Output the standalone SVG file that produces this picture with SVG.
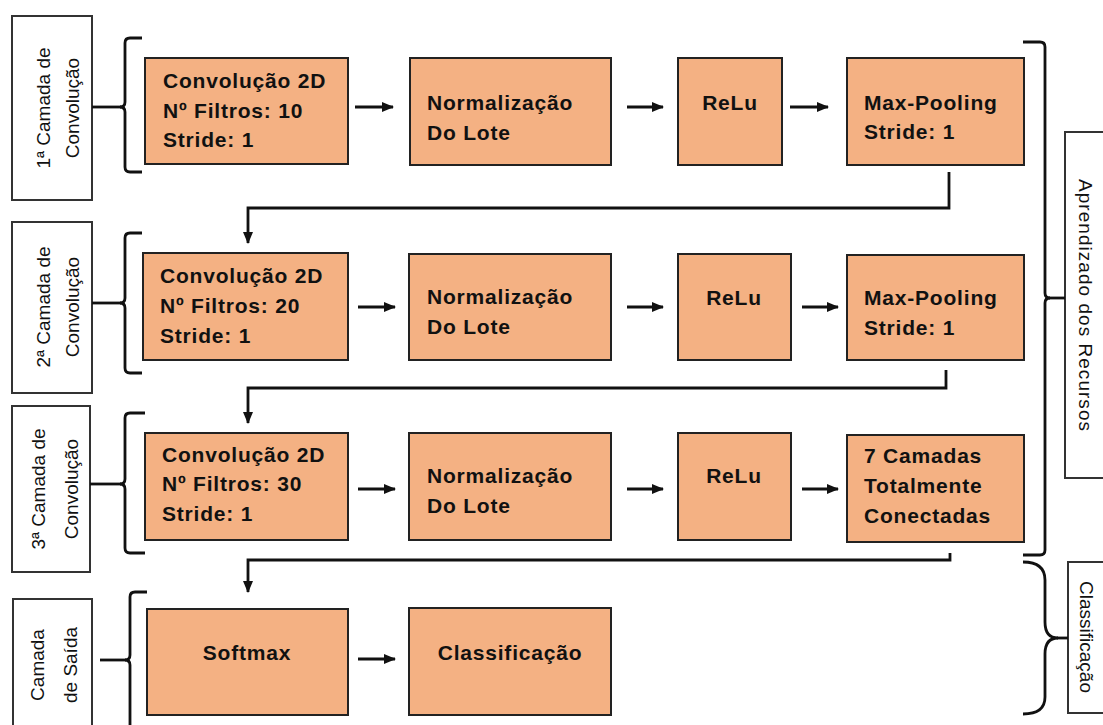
<svg xmlns="http://www.w3.org/2000/svg" width="1103" height="725" viewBox="0 0 1103 725">
<style>
.box{fill:#F4B183;stroke:#222;stroke-width:2}
.lbl{fill:#fff;stroke:#333;stroke-width:2}
.t{font-family:"Liberation Sans",Arial,sans-serif;font-weight:bold;font-size:21px;letter-spacing:0.8px;fill:#111}
.c{text-anchor:middle}
.v{font-family:"Liberation Sans",Arial,sans-serif;font-size:19px;fill:#111;text-anchor:middle}
.ln{fill:none;stroke:#111;stroke-width:2.8}
.br{fill:none;stroke:#111;stroke-width:2.8}
</style>
<defs>
<marker id="ah" markerUnits="userSpaceOnUse" markerWidth="12" markerHeight="12" viewBox="0 0 12 12" refX="11" refY="6" orient="auto">
<path d="M0,1 L12,6 L0,11 Z" fill="#111"/>
</marker>
</defs>

<g id="label1"><rect class="lbl" x="12" y="16" width="80" height="184"/>
<text class="v" transform="translate(50,108) rotate(-90)">1ª Camada de</text>
<text class="v" transform="translate(79,108) rotate(-90)">Convolução</text></g>
<g id="label2"><rect class="lbl" x="12" y="222" width="80" height="171"/>
<text class="v" transform="translate(50,307) rotate(-90)">2ª Camada de</text>
<text class="v" transform="translate(79,307) rotate(-90)">Convolução</text></g>
<g id="label3"><rect class="lbl" x="12" y="406" width="78" height="166"/>
<text class="v" transform="translate(45,489) rotate(-90)">3ª Camada de</text>
<text class="v" transform="translate(78,489) rotate(-90)">Convolução</text></g>
<g id="label4"><rect class="lbl" x="13" y="599" width="79" height="140"/>
<text class="v" transform="translate(44,665) rotate(-90)">Camada</text>
<text class="v" transform="translate(77,665) rotate(-90)">de Saída</text></g>

<g id="label-aprendizado"><rect class="lbl" x="1065" y="132" width="50" height="346"/>
<text class="v" font-size="20" textLength="252" transform="translate(1079,305) rotate(90)">Aprendizado dos Recursos</text></g>
<g id="label-classificacao"><rect class="lbl" x="1068" y="562" width="50" height="151"/>
<text class="v" font-size="20" transform="translate(1080,637) rotate(90)">Classificação</text></g>

<g id="brackets">
<path class="br" d="M142 38 H130 Q125 38 125 43 V102 Q125 107 120 107 Q125 107 125 112 V167 Q125 172 130 172 H142"/>
<path class="br" d="M142 233 H130 Q125 233 125 238 V298 Q125 303 120 303 Q125 303 125 308 V368 Q125 373 130 373 H142"/>
<path class="br" d="M145 413 H130 Q125 413 125 418 V479 Q125 484 120 484 Q125 484 125 489 V548 Q125 553 130 553 H145"/>
<path class="br" d="M147 592 H135 Q130 592 130 597 V655 Q130 660 125 660 Q130 660 130 665 V725"/>
<path class="br" d="M1023 42 H1040 Q1045 42 1045 47 V293 Q1045 298 1050 298 Q1045 298 1045 303 V550 Q1045 555 1040 555 H1023"/>
<path class="br" d="M1023 562 Q1045 562 1045 580 V622 Q1045 638 1058 638 Q1045 638 1045 654 V697 Q1045 714 1023 714"/>
</g>

<g id="connectors">
<line class="ln" x1="92" y1="107" x2="121" y2="107"/>
<line class="ln" x1="92" y1="303" x2="121" y2="303"/>
<line class="ln" x1="90" y1="484" x2="121" y2="484"/>
<line class="ln" x1="100" y1="660" x2="126" y2="660"/>
<line class="ln" x1="1049" y1="298" x2="1065" y2="298"/>
<line class="ln" x1="1057" y1="638" x2="1068" y2="638"/>

<line class="ln" x1="355" y1="107" x2="393" y2="107" marker-end="url(#ah)"/>
<line class="ln" x1="627" y1="107" x2="663" y2="107" marker-end="url(#ah)"/>
<line class="ln" x1="790" y1="107" x2="828" y2="107" marker-end="url(#ah)"/>
<line class="ln" x1="358" y1="307" x2="395" y2="307" marker-end="url(#ah)"/>
<line class="ln" x1="627" y1="307" x2="663" y2="307" marker-end="url(#ah)"/>
<line class="ln" x1="802" y1="307" x2="838" y2="307" marker-end="url(#ah)"/>
<line class="ln" x1="358" y1="489" x2="395" y2="489" marker-end="url(#ah)"/>
<line class="ln" x1="627" y1="489" x2="663" y2="489" marker-end="url(#ah)"/>
<line class="ln" x1="802" y1="489" x2="838" y2="489" marker-end="url(#ah)"/>
<line class="ln" x1="358" y1="659" x2="395" y2="659" marker-end="url(#ah)"/>

<path class="ln" d="M949 172 V208 H248 V243" marker-end="url(#ah)"/>
<path class="ln" d="M946 370 V388 H248 V423" marker-end="url(#ah)"/>
<path class="ln" d="M950 553 V560 H248 V592" marker-end="url(#ah)"/>
</g>

<g id="conv1"><rect class="box" x="145" y="58" width="203" height="106"/>
<text class="t" x="163" y="88">Convolução 2D</text><text class="t" x="163" y="118">Nº Filtros: 10</text><text class="t" x="163" y="147">Stride: 1</text></g>
<g id="norm1"><rect class="box" x="410" y="58" width="201" height="107"/>
<text class="t" x="427" y="110">Normalização</text><text class="t" x="427" y="140">Do Lote</text></g>
<g id="relu1"><rect class="box" x="678" y="58" width="104" height="107"/>
<text class="t c" x="730" y="110">ReLu</text></g>
<g id="pool1"><rect class="box" x="847" y="58" width="177" height="107"/>
<text class="t" x="864" y="110">Max-Pooling</text><text class="t" x="864" y="139">Stride: 1</text></g>

<g id="conv2"><rect class="box" x="143" y="253" width="205" height="107"/>
<text class="t" x="160" y="283">Convolução 2D</text><text class="t" x="160" y="313">Nº Filtros: 20</text><text class="t" x="160" y="343">Stride: 1</text></g>
<g id="norm2"><rect class="box" x="409" y="254" width="202" height="106"/>
<text class="t" x="427" y="304">Normalização</text><text class="t" x="427" y="334">Do Lote</text></g>
<g id="relu2"><rect class="box" x="678" y="254" width="113" height="106"/>
<text class="t c" x="734" y="305">ReLu</text></g>
<g id="pool2"><rect class="box" x="847" y="255" width="177" height="105"/>
<text class="t" x="864" y="305">Max-Pooling</text><text class="t" x="864" y="335">Stride: 1</text></g>

<g id="conv3"><rect class="box" x="145" y="433" width="203" height="107"/>
<text class="t" x="162" y="462">Convolução 2D</text><text class="t" x="162" y="491">Nº Filtros: 30</text><text class="t" x="162" y="521">Stride: 1</text></g>
<g id="norm3"><rect class="box" x="409" y="433" width="202" height="107"/>
<text class="t" x="427" y="483">Normalização</text><text class="t" x="427" y="513">Do Lote</text></g>
<g id="relu3"><rect class="box" x="678" y="433" width="113" height="107"/>
<text class="t c" x="734" y="483">ReLu</text></g>
<g id="fc3"><rect class="box" x="847" y="435" width="177" height="107"/>
<text class="t" x="864" y="463">7 Camadas</text><text class="t" x="864" y="493">Totalmente</text><text class="t" x="864" y="523">Conectadas</text></g>

<g id="softmax"><rect class="box" x="147" y="609" width="201" height="106"/>
<text class="t c" x="247" y="660">Softmax</text></g>
<g id="classificacao"><rect class="box" x="409" y="608" width="202" height="107"/>
<text class="t c" x="510" y="660">Classificação</text></g>
</svg>
